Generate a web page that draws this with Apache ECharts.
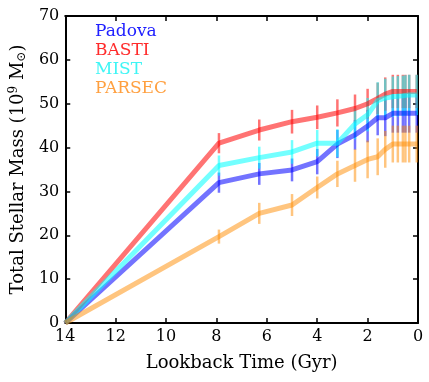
<!DOCTYPE html>
<html>
<head>
<meta charset="utf-8">
<script src="https://cdn.jsdelivr.net/npm/echarts@6/dist/echarts.min.js"></script>
<style>
  html, body { margin: 0; padding: 0; background: #fff; }
  #chart { width: 429px; height: 382px; }
</style>
</head>
<body>
<div id="chart"></div>
<script>
// lookback time (Gyr) of each point
const ages = [14, 7.9, 6.3, 5.0, 4.0, 3.2, 2.5, 2.0, 1.6, 1.3, 1.0, 0.8, 0.6, 0.5, 0.35, 0.05];

// total stellar mass (1e9 Msun) per isochrone set
const padova = [0, 32.0, 34.0, 34.9, 36.8, 40.8, 42.9, 44.9, 46.8, 46.8, 47.8, 47.8, 47.8, 47.8, 47.8, 47.8];
const basti  = [0, 41.0, 44.0, 45.9, 46.9, 47.9, 48.9, 50.0, 51.2, 52.2, 52.8, 52.8, 52.8, 52.8, 52.8, 52.8];
const mist   = [0, 35.9, 37.7, 39.0, 41.0, 41.0, 45.4, 47.5, 50.7, 51.3, 51.6, 51.7, 51.8, 51.9, 52.0, 52.0];
const parsec = [0, 19.7, 25.0, 26.9, 30.9, 34.0, 35.9, 37.3, 37.9, 39.6, 40.8, 40.8, 40.8, 40.8, 40.8, 40.8];

// half-length of the error bars
const padovaErr = [0, 2.3, 2.5, 2.6, 2.9, 3.2, 3.4, 3.7, 4.0, 4.2, 4.4, 4.4, 4.4, 4.4, 4.4, 4.4];
const bastiErr  = [0, 2.3, 2.4, 2.7, 2.7, 3.1, 3.2, 3.4, 3.6, 3.8, 3.8, 3.8, 3.8, 3.8, 3.8, 3.8];
const mistErr   = [0, 2.3, 2.5, 2.7, 3.0, 3.2, 3.5, 3.8, 4.2, 4.4, 4.6, 4.6, 4.6, 4.6, 4.6, 4.6];
const parsecErr = [0, 1.6, 2.4, 2.5, 2.5, 3.0, 3.7, 4.3, 4.2, 4.2, 4.2, 4.2, 4.2, 4.2, 4.2, 4.2];

const xTicks = [0, 2, 4, 6, 8, 10, 12, 14];
const yTicks = [0, 10, 20, 30, 40, 50, 60, 70];

const sets = [
  { name: "Padova", vals: padova, err: padovaErr, line: "rgba(0,0,255,0.55)", text: "#2020ff" },
  { name: "BASTI", vals: basti, err: bastiErr, line: "rgba(255,0,0,0.55)", text: "#ff2b2b" },
  { name: "MIST", vals: mist, err: mistErr, line: "rgba(0,255,255,0.55)", text: "#3ff5f5" },
  { name: "PARSEC", vals: parsec, err: parsecErr, line: "rgba(255,140,0,0.5)", text: "#ffa040" }
];

const serif = "DejaVu Serif";
const myChart = echarts.init(document.getElementById("chart"));

const series = [];
sets.forEach(s => {
  series.push({
    name: s.name,
    type: "line",
    showSymbol: false,
    symbol: "none",
    lineStyle: { width: 5, color: s.line },
    itemStyle: { color: s.line },
    z: 3,
    data: ages.map((a, i) => [a, s.vals[i]])
  });
  // error bars
  series.push({
    name: s.name,
    type: "custom",
    z: 2,
    renderItem: function (params, api) {
      const lo = api.coord([api.value(0), api.value(1)]);
      const hi = api.coord([api.value(0), api.value(2)]);
      return {
        type: "line",
        shape: { x1: lo[0], y1: lo[1], x2: hi[0], y2: hi[1] },
        style: { stroke: s.line, lineWidth: 2.5 }
      };
    },
    data: ages
      .map((a, i) => [a, s.vals[i] - s.err[i], s.vals[i] + s.err[i]])
      .filter((d, i) => s.err[i] > 0)
  });
});

myChart.setOption({
  animation: false,
  grid: { left: 62, right: 11, top: 16, bottom: 59, containLabel: false },
  legend: {
    orient: "vertical",
    left: 85,
    top: 18,
    icon: "none",
    itemWidth: 0,
    itemHeight: 14,
    itemGap: 1,
    selectedMode: false,
    textStyle: { fontFamily: serif, fontSize: 17, lineHeight: 18 },
    data: sets.map(s => ({ name: s.name, textStyle: { color: s.text } }))
  },
  xAxis: [
    {
      type: "value",
      inverse: true,
      min: 0,
      max: 14,
      interval: 2,
      name: "Lookback Time (Gyr)",
      nameLocation: "middle",
      nameGap: 31,
      nameTextStyle: { fontFamily: serif, fontSize: 18, color: "#000" },
      axisLine: { onZero: false, lineStyle: { color: "#000", width: 2 } },
      axisTick: { inside: true, length: 5, lineStyle: { color: "#000", width: 1.5 } },
      axisLabel: {
        fontFamily: serif, fontSize: 16, color: "#000", margin: 6,
        formatter: v => (xTicks.indexOf(v) >= 0 ? String(v) : "")
      },
      splitLine: { show: false }
    },
    {
      type: "value",
      position: "top",
      inverse: true,
      min: 0,
      max: 14,
      interval: 2,
      axisLine: { onZero: false, lineStyle: { color: "#000", width: 2 } },
      axisTick: { inside: true, length: 5, lineStyle: { color: "#000", width: 1.5 } },
      axisLabel: { show: false },
      splitLine: { show: false }
    }
  ],
  yAxis: [
    {
      type: "value",
      min: 0,
      max: 70,
      interval: 10,
      name: "{t|Total Stellar Mass (10}{sup|9}{t| M}{sub|⊙}{t|)}",
      nameLocation: "middle",
      nameGap: 37,
      nameTextStyle: {
        fontFamily: serif, fontSize: 18, color: "#000",
        rich: {
          t: { fontFamily: serif, fontSize: 18, color: "#000" },
          sup: { fontFamily: serif, fontSize: 12, color: "#000", verticalAlign: "top", padding: [0, 0, 8, 0] },
          sub: { fontFamily: serif, fontSize: 12, color: "#000", verticalAlign: "bottom", padding: [6, 0, 0, 0] }
        }
      },
      axisLine: { onZero: false, lineStyle: { color: "#000", width: 2 } },
      axisTick: { inside: true, length: 5, lineStyle: { color: "#000", width: 1.5 } },
      axisLabel: {
        fontFamily: serif, fontSize: 16, color: "#000", margin: 6,
        formatter: v => (yTicks.indexOf(v) >= 0 ? String(v) : "")
      },
      splitLine: { show: false }
    },
    {
      type: "value",
      position: "right",
      min: 0,
      max: 70,
      interval: 10,
      axisLine: { onZero: false, lineStyle: { color: "#000", width: 2 } },
      axisTick: { inside: true, length: 5, lineStyle: { color: "#000", width: 1.5 } },
      axisLabel: { show: false },
      splitLine: { show: false }
    }
  ],
  series: series
});
</script>
</body>
</html>
